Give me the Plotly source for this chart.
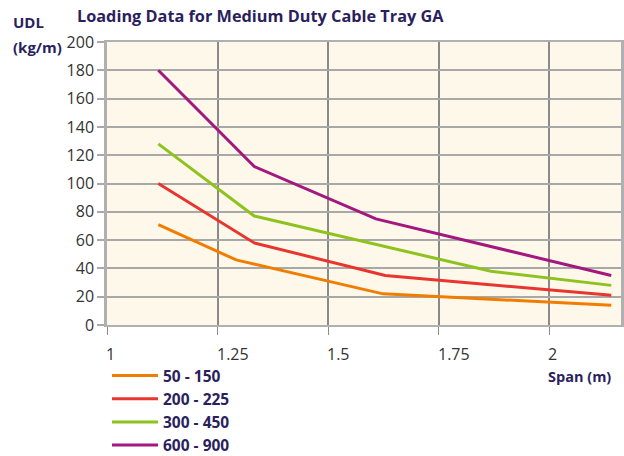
import plotly.graph_objects as go

# Span (m) vs uniformly distributed load (kg/m) for each tray width range
series_names = ["50 - 150", "200 - 225", "300 - 450", "600 - 900"]
series_colors = ["#f07d00", "#e8352f", "#8dc21f", "#a3177f"]

span_50_150 = [1.116, 1.292, 1.624, 2.14]
udl_50_150 = [71, 46, 22, 14]

span_200_225 = [1.116, 1.333, 1.629, 2.14]
udl_200_225 = [100, 58, 35, 21]

span_300_450 = [1.116, 1.333, 1.868, 2.14]
udl_300_450 = [128, 77, 38, 28]

span_600_900 = [1.116, 1.333, 1.608, 2.14]
udl_600_900 = [180, 112, 75, 35]

x_ticks = [1, 1.25, 1.5, 1.75, 2]
x_tick_labels = ["1", "1.25", "1.5", "1.75", "2"]
y_ticks = list(range(0, 201, 20))

title_text = "Loading Data for Medium Duty Cable Tray GA"
ink = "#2b1f5e"
tick_ink = "#333333"
font_family = "Open Sans"

spans = [span_50_150, span_200_225, span_300_450, span_600_900]
udls = [udl_50_150, udl_200_225, udl_300_450, udl_600_900]

# figure geometry in pixels
W, H = 624, 456
ML, MR, MT, MB = 107, 3, 42, 131
PW, PH = W - ML - MR, H - MT - MB


def px(x):
    return (x - ML) / PW


def py(y):
    return 1 - (y - MT) / PH


fig = go.Figure()
for name, color, xs, ys in zip(series_names, series_colors, spans, udls):
    fig.add_trace(go.Scatter(
        x=xs, y=ys, mode="lines", name=name, legendgroup=name,
        line=dict(color=color, width=3),
    ))

fig.update_layout(
    width=W, height=H,
    margin=dict(l=ML, r=MR, t=MT, b=MB, autoexpand=False),
    paper_bgcolor="white",
    plot_bgcolor="#fef8ea",
    font=dict(family=font_family, size=14, color=tick_ink),
    showlegend=True,
    legend=dict(
        x=px(107), y=py(359), xanchor="left", yanchor="top",
        traceorder="grouped", tracegroupgap=0,
        font=dict(family=font_family, size=15.5, color=ink, weight="bold"),
        itemwidth=46, bgcolor="rgba(0,0,0,0)",
    ),
    xaxis=dict(
        range=[1, 2.162], tickvals=x_ticks, showticklabels=False,
        ticks="outside", ticklen=8, tickcolor="#8a8a8a", tickwidth=1,
        showgrid=True, gridcolor="#8a8a8a", gridwidth=1.5,
        showline=True, linecolor="#b0b0b0", linewidth=2, mirror=True,
        zeroline=False,
    ),
    yaxis=dict(
        range=[0, 200], tickvals=y_ticks,
        ticks="outside", ticklen=7, tickcolor="#a8a8a8", tickwidth=2,
        showgrid=True, gridcolor="#a8a8a8", gridwidth=2,
        showline=True, linecolor="#b0b0b0", linewidth=2.5, mirror=True,
        zeroline=False,
        tickfont=dict(family=font_family, size=16, color=tick_ink),
    ),
)

# span tick labels sit to the right of their tick marks
for v, lab in zip(x_ticks, x_tick_labels):
    fig.add_annotation(text=lab, x=v, y=py(341), xref="x", yref="paper",
                       xanchor="left", yanchor="top", xshift=-3, showarrow=False,
                       font=dict(family=font_family, size=16, color=tick_ink))

fig.add_annotation(text="<b>" + title_text + "</b>", x=px(75), y=py(16), xref="paper", yref="paper",
                   xanchor="left", yanchor="middle", showarrow=False,
                   font=dict(family=font_family, size=16.3, color=ink))
fig.add_annotation(text="<b>UDL</b>", x=px(11), y=py(22), xref="paper", yref="paper",
                   xanchor="left", yanchor="middle", showarrow=False,
                   font=dict(family=font_family, size=15, color=ink))
fig.add_annotation(text="<b>(kg/m)</b>", x=px(11), y=py(47), xref="paper", yref="paper",
                   xanchor="left", yanchor="middle", showarrow=False,
                   font=dict(family=font_family, size=15, color=ink))
fig.add_annotation(text="<b>Span (m)</b>", x=px(613), y=py(376), xref="paper", yref="paper",
                   xanchor="right", yanchor="middle", showarrow=False,
                   font=dict(family=font_family, size=14.5, color=ink))

fig.write_html("out.html")
